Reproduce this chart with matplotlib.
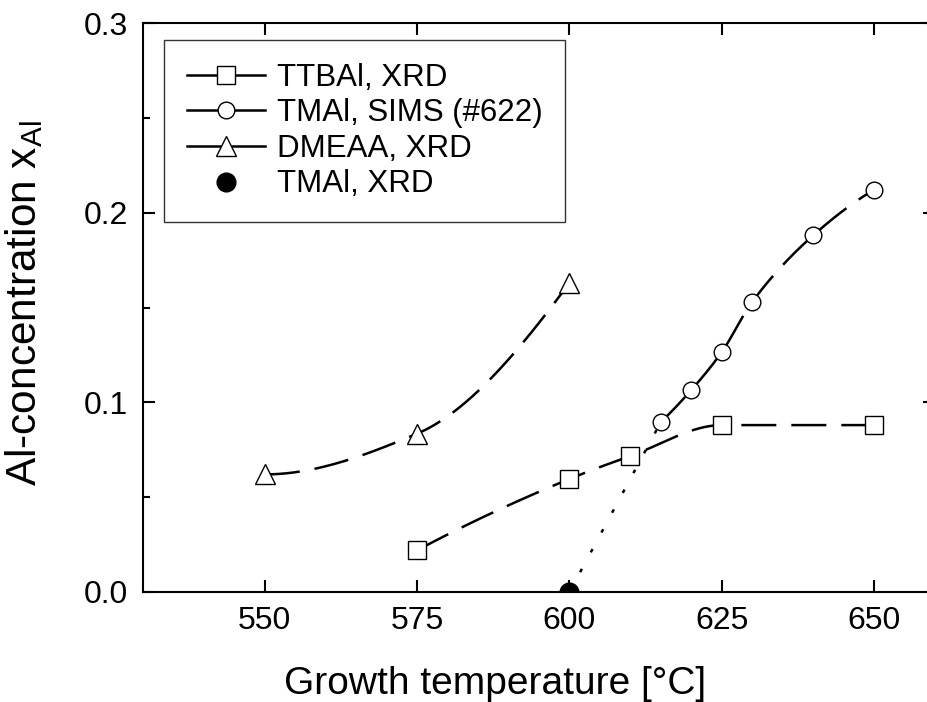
import numpy as np
import matplotlib
matplotlib.use("Agg")
import matplotlib.pyplot as plt
from matplotlib.lines import Line2D

plt.rcParams['font.family'] = ['Liberation Sans', 'DejaVu Sans']
plt.rcParams['mathtext.fontset'] = 'custom'
plt.rcParams['mathtext.rm'] = 'Liberation Sans'

# Data
ttbal_temp = [575, 600, 610, 625, 650]
ttbal_al = [0.022, 0.0596, 0.0717, 0.088, 0.088]

sims_temp = [615, 620, 625, 630, 640, 650]
sims_al = [0.0896, 0.1065, 0.1265, 0.153, 0.188, 0.212]

dmeaa_temp = [550, 575, 600]
dmeaa_al = [0.062, 0.0835, 0.163]

xrd_temp = [600]
xrd_al = [0.0]

xticks = [550, 575, 600, 625, 650]
yticks = [0.0, 0.1, 0.2, 0.3]


def smooth(x, y, n=200):
    # monotone cubic (pchip) curve through the points, only for drawing
    x = np.asarray(x, float)
    y = np.asarray(y, float)
    h = np.diff(x)
    delta = np.diff(y) / h
    m = len(x)
    d = np.zeros(m)
    for k in range(1, m - 1):
        if delta[k - 1] * delta[k] > 0:
            w1 = 2 * h[k] + h[k - 1]
            w2 = h[k] + 2 * h[k - 1]
            d[k] = (w1 + w2) / (w1 / delta[k - 1] + w2 / delta[k])

    def end(h0, h1, d0, d1):
        s = ((2 * h0 + h1) * d0 - h0 * d1) / (h0 + h1)
        if np.sign(s) != np.sign(d0):
            return 0.0
        if np.sign(d0) != np.sign(d1) and abs(s) > 3 * abs(d0):
            return 3 * d0
        return s

    if m > 2:
        d[0] = end(h[0], h[1], delta[0], delta[1])
        d[-1] = end(h[-1], h[-2], delta[-1], delta[-2])
    else:
        d[:] = delta[0]
    xs = np.linspace(x[0], x[-1], n)
    idx = np.clip(np.searchsorted(x, xs) - 1, 0, m - 2)
    t = (xs - x[idx]) / h[idx]
    h00 = 2 * t ** 3 - 3 * t ** 2 + 1
    h10 = t ** 3 - 2 * t ** 2 + t
    h01 = -2 * t ** 3 + 3 * t ** 2
    h11 = t ** 3 - t ** 2
    ys = (h00 * y[idx] + h10 * h[idx] * d[idx] + h01 * y[idx + 1]
          + h11 * h[idx] * d[idx + 1])
    return xs, ys


fig = plt.figure(figsize=(9.27, 7.02), dpi=100)
ax = fig.add_axes([0.1543, 0.1567, 0.8543, 0.8105])

lw = 1.8
dash = (14, 6)

# curves
for tx, ty in [(ttbal_temp, ttbal_al), (sims_temp, sims_al), (dmeaa_temp, dmeaa_al)]:
    xs, ys = smooth(tx, ty)
    ax.plot(xs, ys, color='black', lw=lw, dashes=dash, zorder=2)

# dotted extrapolation from the XRD point to the first SIMS point
ax.plot([xrd_temp[0], sims_temp[0]], [xrd_al[0], sims_al[0]], color='black',
        lw=lw, dashes=(1.5, 7.5), zorder=2)

# markers
ax.plot(ttbal_temp, ttbal_al, ls='none', marker='s', ms=12.5, mfc='white',
        mec='black', mew=1.0, zorder=3)
ax.plot(sims_temp, sims_al, ls='none', marker='o', ms=12, mfc='white',
        mec='black', mew=1.0, zorder=3)
ax.plot(dmeaa_temp, dmeaa_al, ls='none', marker='^', ms=14, mfc='white',
        mec='black', mew=1.0, zorder=3)
ax.plot(xrd_temp, xrd_al, ls='none', marker='o', ms=13.5, mfc='black',
        mec='black', zorder=3)

ax.set_xlim(530, 660)
ax.set_ylim(0, 0.3)
ax.set_xticks(xticks)
ax.set_yticks(yticks)
ax.set_yticks([0.05, 0.15, 0.25], minor=True)
ax.set_yticklabels(['%.1f' % v for v in yticks])

ax.tick_params(axis='x', which='major', direction='in', top=True, length=8.5,
               width=1.5, labelsize=23, pad=10)
ax.tick_params(axis='y', which='major', direction='in', right=True, length=8.5,
               width=1.5, labelsize=23, pad=11)
ax.tick_params(axis='y', which='minor', direction='in', left=True, right=False,
               length=5, width=1.5)
for s in ax.spines.values():
    s.set_linewidth(1.5)

ax.set_xlabel('Growth temperature [°C]', fontsize=28)
ax.xaxis.set_label_coords(0.444, -0.13)
ax.set_ylabel(r'Al-concentration x$_{\mathregular{Al}}$', fontsize=30.5)
ax.yaxis.set_label_coords(-0.124, 0.508)

handles = [
    Line2D([], [], color='black', lw=lw, marker='s', ms=12.5, mfc='white', mew=1.0),
    Line2D([], [], color='black', lw=lw, marker='o', ms=12, mfc='white', mew=1.0),
    Line2D([], [], color='black', lw=lw, marker='^', ms=14, mfc='white', mew=1.0),
    Line2D([], [], color='black', ls='none', marker='o', ms=13.5, mfc='black'),
]
labels = ['TTBAl, XRD', 'TMAl, SIMS (#622)', 'DMEAA, XRD', 'TMAl, XRD']
leg = ax.legend(handles, labels, loc='upper left', bbox_to_anchor=(0.0265, 0.970),
                borderaxespad=0, fontsize=22.5, frameon=True, fancybox=False,
                handlelength=2.5, handletextpad=0.4, labelspacing=0.18,
                borderpad=0.72)
leg.get_frame().set_edgecolor('black')
leg.get_frame().set_linewidth(1.0)

fig.savefig('out.png', dpi=100)
